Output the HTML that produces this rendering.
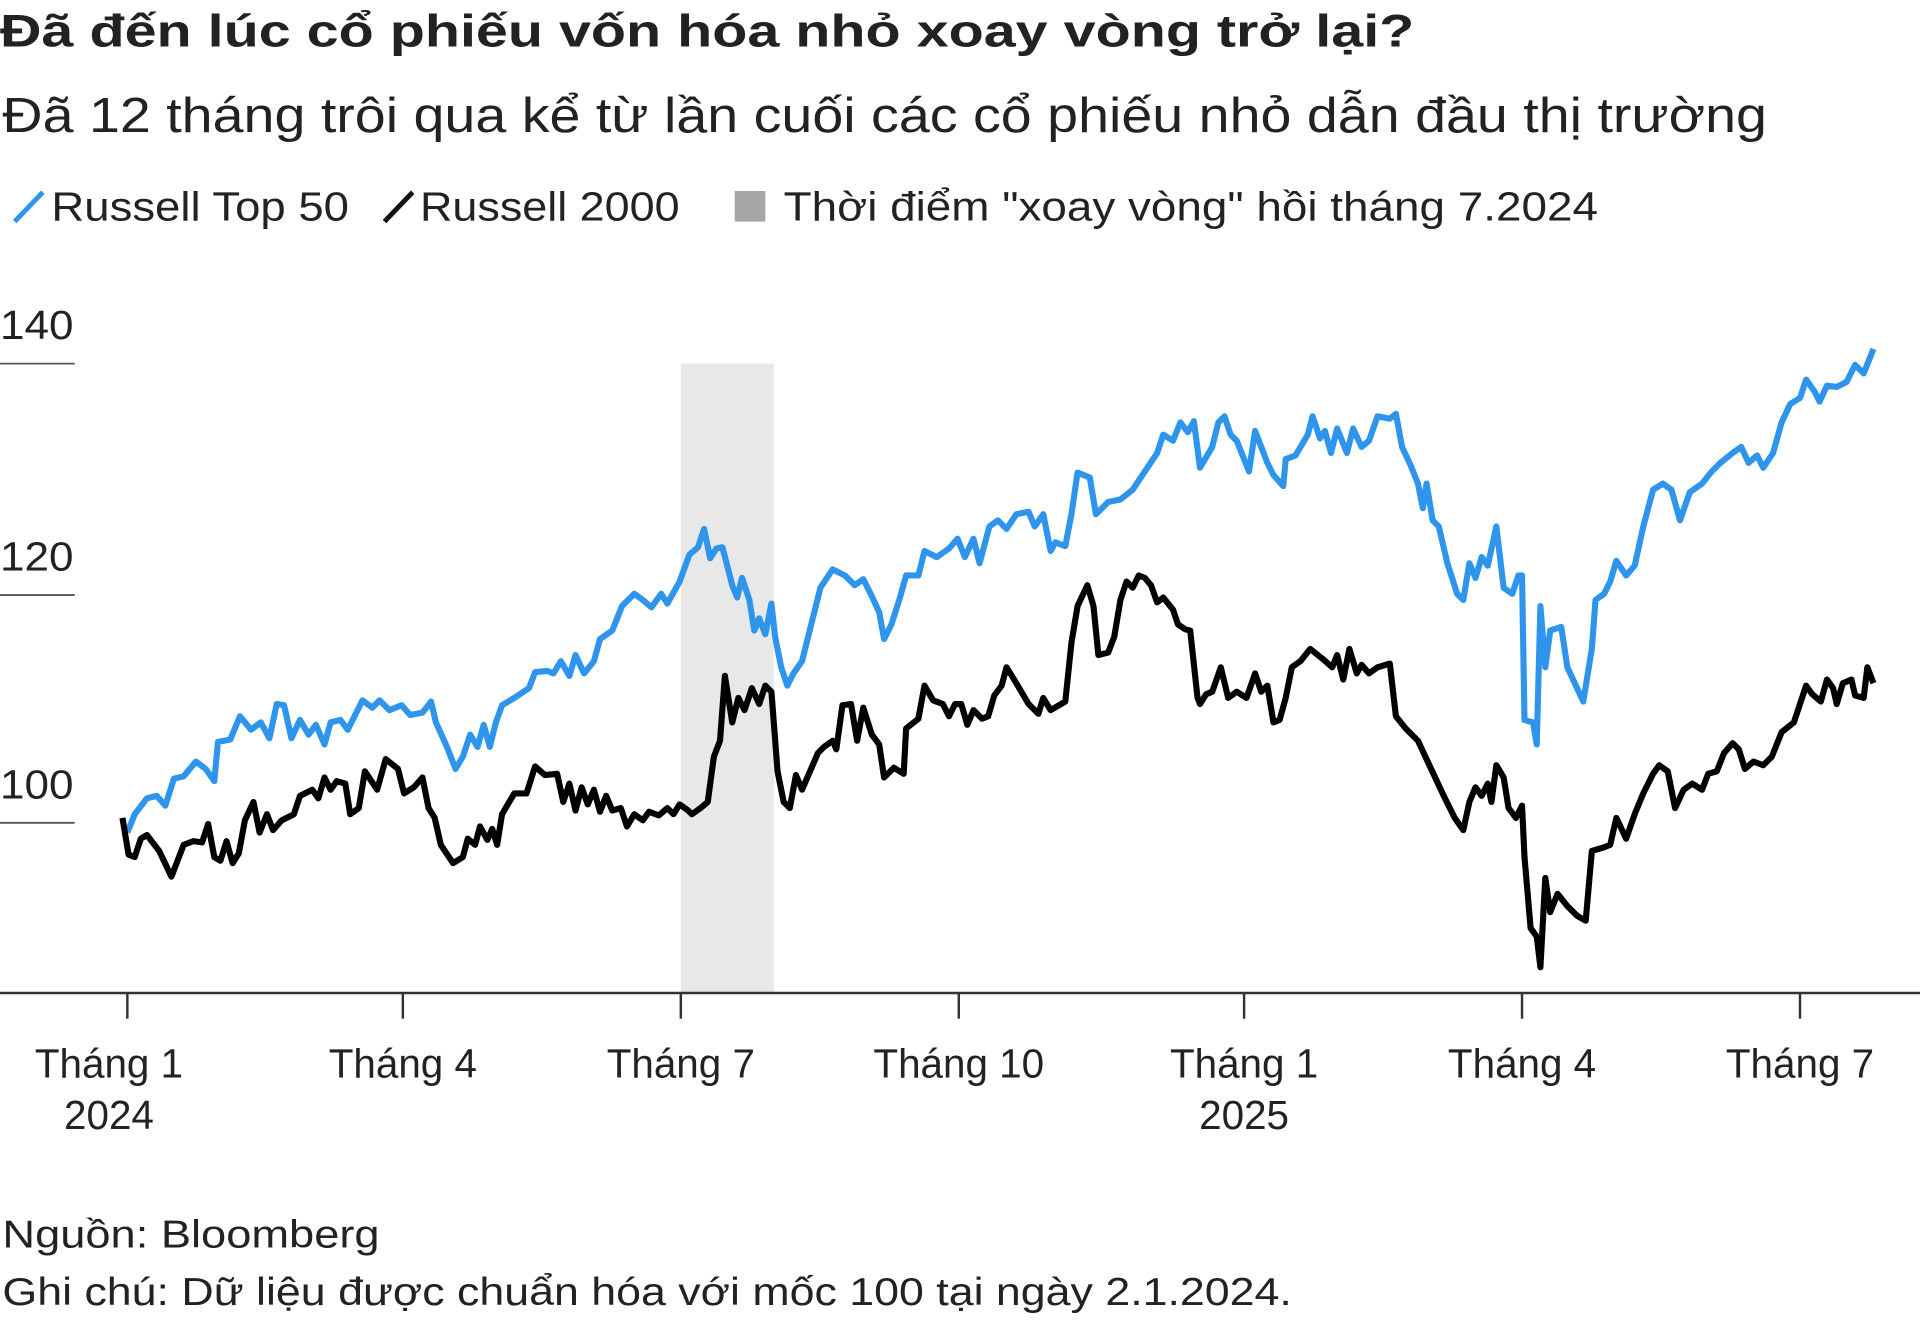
<!DOCTYPE html>
<html><head><meta charset="utf-8"><style>
html,body{margin:0;padding:0;background:#fff;}
svg{display:block;}
text{font-family:"Liberation Sans","DejaVu Sans",sans-serif;fill:#222;}
</style></head><body>
<svg width="1920" height="1326" viewBox="0 0 1568 1083" preserveAspectRatio="none" xmlns="http://www.w3.org/2000/svg">
<rect width="1568" height="1083" fill="#fff"/>
<text x="0" y="38" font-size="37" font-weight="bold" textLength="1155" lengthAdjust="spacingAndGlyphs" fill="#111">Đã đến lúc cổ phiếu vốn hóa nhỏ xoay vòng trở lại?</text>
<text x="2" y="108" font-size="40" textLength="1441" lengthAdjust="spacingAndGlyphs" fill="#333">Đã 12 tháng trôi qua kể từ lần cuối các cổ phiếu nhỏ dẫn đầu thị trường</text>
<line x1="12" y1="181" x2="35" y2="157" stroke="#2f95ec" stroke-width="4"/>
<text x="42" y="180" font-size="33" textLength="243" lengthAdjust="spacingAndGlyphs" fill="#333">Russell Top 50</text>
<line x1="314" y1="181" x2="337" y2="157" stroke="#111" stroke-width="4"/>
<text x="343" y="180" font-size="33" textLength="212" lengthAdjust="spacingAndGlyphs" fill="#333">Russell 2000</text>
<rect x="600" y="156" width="25" height="25" fill="#a6a6a6"/>
<text x="640" y="180" font-size="33" textLength="665" lengthAdjust="spacingAndGlyphs" fill="#333">Thời điểm "xoay vòng" hồi tháng 7.2024</text>

<rect x="556" y="297" width="76" height="514" fill="#e8e8e8"/>
<g fill="#333" font-size="33">
<text x="0" y="277" textLength="60" lengthAdjust="spacingAndGlyphs">140</text>
<text x="0" y="466" textLength="60" lengthAdjust="spacingAndGlyphs">120</text>
<text x="0" y="652" textLength="60" lengthAdjust="spacingAndGlyphs">100</text>
</g>
<g stroke="#555" stroke-width="1.5">
<line x1="0" y1="297" x2="61" y2="297"/>
<line x1="0" y1="486" x2="61" y2="486"/>
<line x1="0" y1="672" x2="61" y2="672"/>
</g>
<line x1="0" y1="811" x2="1568" y2="811" stroke="#333" stroke-width="2"/>
<g stroke="#333" stroke-width="2">
<line x1="104" y1="811" x2="104" y2="832"/><line x1="329" y1="811" x2="329" y2="832"/>
<line x1="556" y1="811" x2="556" y2="832"/><line x1="783" y1="811" x2="783" y2="832"/>
<line x1="1016" y1="811" x2="1016" y2="832"/><line x1="1243" y1="811" x2="1243" y2="832"/>
<line x1="1470" y1="811" x2="1470" y2="832"/>
</g>
<g font-size="33" text-anchor="middle" fill="#333">
<text x="89" y="880">Tháng 1</text><text x="89" y="922">2024</text>
<text x="329" y="880">Tháng 4</text>
<text x="556" y="880">Tháng 7</text>
<text x="783" y="880">Tháng 10</text>
<text x="1016" y="880">Tháng 1</text><text x="1016" y="922">2025</text>
<text x="1243" y="880">Tháng 4</text>
<text x="1470" y="880">Tháng 7</text>
</g>
<polyline fill="none" stroke="#2f95ec" stroke-width="5" stroke-linejoin="round" points="104,680 110,665 120,652 128,650 135,658 142,636 150,634 160,622 168,628 175,638 178,606 188,604 196,585 205,596 213,590 220,603 226,575 232,576 238,603 245,588 252,600 258,592 265,608 270,590 278,588 284,596 296,572 304,578 310,572 318,580 328,576 335,584 345,582 352,573 356,590 365,610 372,628 378,618 384,600 390,610 395,592 400,610 405,590 410,576 420,570 432,562 437,549 447,548 452,550 458,540 465,552 470,535 477,550 485,540 490,522 500,515 508,495 518,485 525,490 532,496 540,485 545,493 555,475 563,453 570,447 575,432 580,456 585,448 590,447 598,478 602,488 606,472 612,490 616,515 620,505 625,518 630,493 633,520 638,545 643,560 648,550 655,540 660,520 665,500 670,480 680,465 690,470 698,478 705,473 712,487 718,500 722,522 728,510 735,488 740,470 750,470 755,450 765,455 775,448 782,440 788,455 795,440 800,460 808,430 815,425 822,432 830,420 840,418 845,430 852,420 858,450 862,443 870,446 875,420 880,386 890,390 895,420 905,410 915,408 925,400 935,385 945,370 950,355 958,360 964,345 970,353 975,344 980,382 990,365 995,345 1000,340 1005,355 1010,360 1020,385 1025,352 1030,365 1035,378 1040,388 1048,397 1050,375 1058,372 1068,355 1072,340 1078,358 1082,352 1087,370 1092,350 1100,370 1105,350 1112,365 1118,360 1125,340 1135,342 1140,338 1145,365 1152,380 1158,395 1162,415 1165,395 1170,425 1175,430 1182,460 1190,485 1195,490 1200,460 1205,472 1210,455 1215,462 1222,430 1228,480 1235,485 1240,470 1243,470 1245,588 1252,590 1255,608 1258,495 1262,545 1266,515 1275,512 1280,545 1287,560 1293,573 1300,530 1303,490 1310,485 1315,475 1320,458 1328,470 1335,462 1342,430 1350,400 1358,395 1365,400 1372,425 1380,402 1390,395 1398,385 1405,378 1415,370 1422,365 1428,378 1435,372 1440,382 1448,370 1455,345 1462,330 1470,325 1475,310 1482,320 1486,328 1492,315 1500,316 1508,312 1515,298 1522,305 1530,285"/>
<polyline fill="none" stroke="#000" stroke-width="5" stroke-linejoin="round" points="100,668 105,698 110,700 115,685 120,682 130,695 140,716 150,690 158,687 165,688 170,673 175,700 180,703 185,687 190,705 195,697 200,670 207,655 212,680 218,665 223,678 230,670 240,665 245,650 255,645 260,652 265,635 270,645 275,638 282,640 286,665 293,660 298,630 308,645 315,620 325,628 330,648 338,643 345,635 350,660 355,668 360,690 370,705 378,700 382,685 388,690 392,675 398,686 402,677 406,690 410,665 420,648 430,648 437,626 445,633 455,632 460,655 465,640 470,662 475,643 480,657 485,645 490,663 495,650 500,662 507,660 512,675 518,665 525,670 530,663 538,666 545,660 550,665 555,657 562,662 565,665 572,660 578,655 583,618 588,605 592,552 598,590 603,570 608,580 614,562 620,575 625,560 630,565 635,630 640,655 645,660 650,633 655,645 668,615 673,610 680,605 683,612 688,576 695,575 700,605 705,578 712,600 718,608 722,635 730,627 738,632 740,595 750,587 755,560 762,572 770,575 775,585 780,575 785,575 790,592 795,580 802,587 807,585 812,568 818,560 822,545 830,558 840,575 848,583 852,570 858,580 870,573 875,525 880,495 888,478 893,495 897,535 905,533 910,520 915,490 920,475 925,480 930,470 935,472 940,478 945,492 950,488 958,498 962,510 968,514 972,515 978,570 980,575 985,567 990,565 997,545 1003,570 1010,565 1018,570 1025,550 1030,565 1035,560 1040,590 1045,588 1050,570 1055,545 1062,540 1070,530 1080,538 1088,545 1092,535 1097,555 1102,530 1108,550 1112,543 1118,550 1125,545 1135,542 1140,585 1148,595 1158,605 1165,620 1172,635 1180,652 1188,668 1195,678 1200,655 1205,643 1210,650 1215,640 1218,655 1222,625 1228,635 1232,660 1238,668 1243,658 1245,700 1250,758 1255,765 1258,790 1262,717 1266,745 1272,730 1280,740 1288,748 1295,752 1300,695 1310,692 1315,690 1320,668 1328,685 1335,665 1342,648 1350,632 1355,625 1362,630 1368,660 1375,645 1382,640 1390,645 1395,632 1402,630 1408,615 1415,607 1420,612 1425,628 1432,622 1440,625 1447,618 1455,598 1465,590 1470,575 1475,560 1480,567 1487,573 1492,555 1497,562 1500,575 1505,558 1512,555 1515,568 1522,570 1525,545 1530,558"/>
<text x="2" y="1019" font-size="32" textLength="308" lengthAdjust="spacingAndGlyphs" fill="#333">Nguồn: Bloomberg</text>
<text x="2" y="1066" font-size="32" textLength="1053" lengthAdjust="spacingAndGlyphs" fill="#333">Ghi chú: Dữ liệu được chuẩn hóa với mốc 100 tại ngày 2.1.2024.</text>
</svg>
</body></html>
